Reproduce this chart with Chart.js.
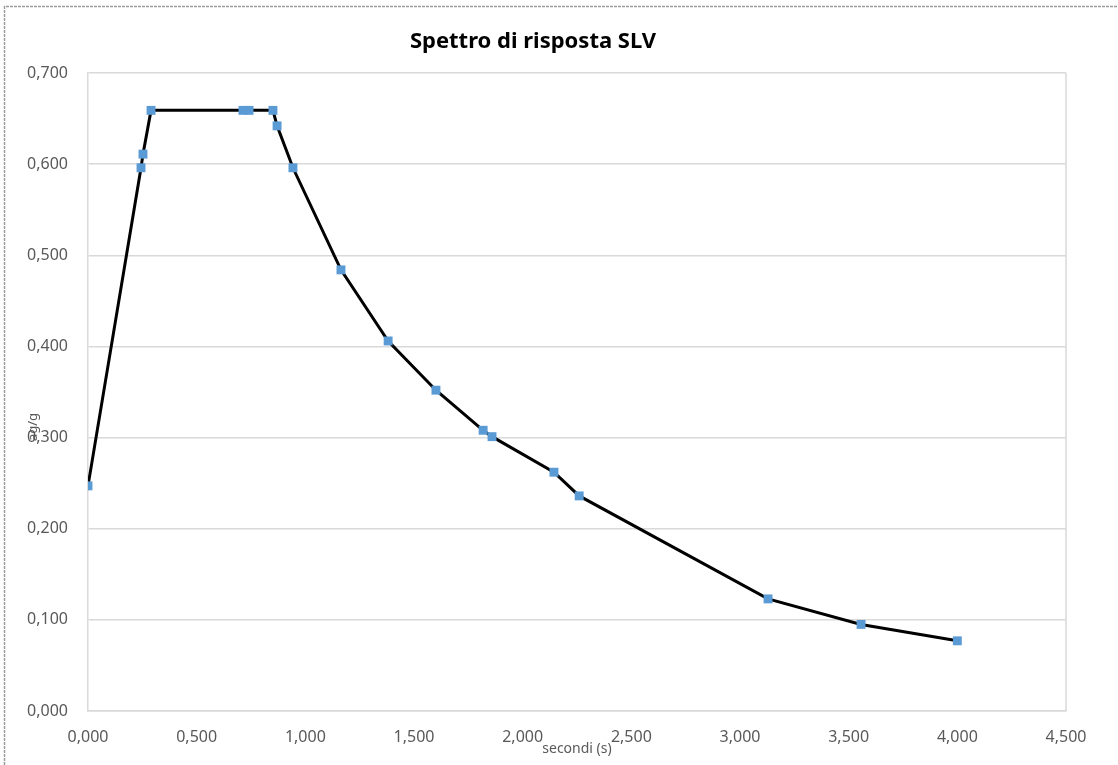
<!DOCTYPE html>
<html>
<head>
<meta charset="utf-8">
<script src="https://cdn.jsdelivr.net/npm/chart.js@4/dist/chart.umd.min.js"></script>
<style>
	html, body { margin: 0; padding: 0; background: #fff; }
	canvas { display: block; }
</style>
</head>
<body>
<canvas id="spettro" width="1118" height="765"></canvas>
<script>
// periodi T (s) e accelerazioni spettrali ag/g
const periodi = [0.000, 0.244, 0.253, 0.290, 0.713, 0.741, 0.851, 0.870, 0.943, 1.164, 1.381, 1.601, 1.818, 1.859, 2.144, 2.260, 3.129, 3.557, 4.000];
const accel = [0.247, 0.596, 0.611, 0.659, 0.659, 0.659, 0.659, 0.642, 0.596, 0.484, 0.406, 0.352, 0.308, 0.301, 0.262, 0.236, 0.123, 0.095, 0.077];

const titolo = "Spettro di risposta SLV";
const titoloX = "secondi (s)";
const titoloY = "ag/g";

const tickFont = { family: "'Noto Sans', 'Open Sans', sans-serif", size: 16 };
const textCol = "#595959";
const gridCol = "#d9d9d9";

// numeri all'italiana: 0,500
function fmt(v) {
	return Number(v).toFixed(3).replace('.', ',');
}

// cornice, titoli e riquadro del grafico
const decor = {
	id: 'decor',
	beforeDraw(chart) {
		let ctx = chart.ctx;
		ctx.save();
		ctx.strokeStyle = '#9a9a9a';
		ctx.lineWidth = 1.5;
		ctx.setLineDash([3, 1]);
		ctx.beginPath();
		ctx.moveTo(4.5, chart.height);
		ctx.lineTo(4.5, 6.5);
		ctx.lineTo(chart.width, 6.5);
		ctx.stroke();
		ctx.restore();
	},
	afterDatasetsDraw(chart) {
		let ctx = chart.ctx;
		let a = chart.chartArea;
		ctx.save();
		// right edge of plot box
		ctx.strokeStyle = gridCol;
		ctx.lineWidth = 1.5;
		ctx.beginPath();
		ctx.moveTo(a.right, a.top);
		ctx.lineTo(a.right, a.bottom);
		ctx.stroke();

		ctx.fillStyle = '#000';
		ctx.textAlign = 'center';
		ctx.textBaseline = 'middle';
		ctx.font = "bold 22px 'Noto Sans', 'Open Sans', sans-serif";
		ctx.fillText(titolo, 533, 42);

		ctx.fillStyle = textCol;
		ctx.font = "14px 'Noto Sans', 'Open Sans', sans-serif";
		ctx.fillText(titoloX, (a.left + a.right) / 2, 749);

		ctx.translate(33, 427);
		ctx.rotate(-Math.PI / 2);
		ctx.font = "13px 'Noto Sans', 'Open Sans', sans-serif";
		ctx.fillText(titoloY, 0, 0);
		ctx.restore();
	}
};

new Chart(document.getElementById('spettro'), {
	type: 'scatter',
	data: {
		datasets: [{
			label: 'SLV',
			data: periodi.map((t, i) => ({ x: t, y: accel[i] })),
			showLine: true,
			tension: 0,
			borderColor: '#000',
			borderWidth: 3,
			pointStyle: 'rect',
			pointRadius: 6.3,
			pointHoverRadius: 6.3,
			pointBackgroundColor: '#5b9bd5',
			pointBorderColor: '#5b9bd5',
			pointBorderWidth: 0
		}]
	},
	options: {
		responsive: false,
		animation: false,
		layout: { padding: { top: 73, right: 52, left: 0, bottom: 0 } },
		plugins: {
			legend: { display: false },
			title: { display: false },
			tooltip: { enabled: false }
		},
		scales: {
			x: {
				type: 'linear',
				min: 0,
				max: 4.5,
				ticks: {
					stepSize: 0.5,
					padding: 17,
					color: textCol,
					font: tickFont,
					maxRotation: 0,
					callback: fmt
				},
				grid: { display: false, drawTicks: false },
				border: { display: true, color: gridCol, width: 1.5 },
				afterFit: s => { s.height = 54; }
			},
			y: {
				min: 0,
				max: 0.7,
				ticks: {
					stepSize: 0.1,
					padding: 20,
					color: textCol,
					font: tickFont,
					callback: fmt
				},
				grid: { color: gridCol, lineWidth: 1.5, drawTicks: false },
				border: { display: true, color: gridCol, width: 1.5 },
				afterFit: s => { s.width = 88; }
			}
		}
	},
	plugins: [decor]
});
</script>
</body>
</html>
